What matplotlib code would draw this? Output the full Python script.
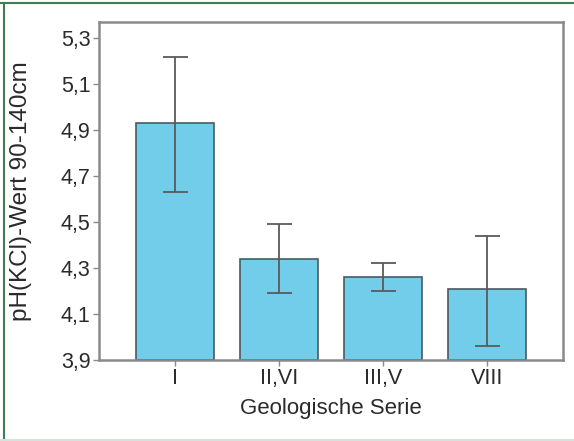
import matplotlib
matplotlib.use('Agg')
import matplotlib.pyplot as plt
from matplotlib.lines import Line2D
from matplotlib.ticker import FuncFormatter

serien = ['I', 'II,VI', 'III,V', 'VIII']
ph_mittel = [4.93, 4.34, 4.26, 4.21]
ph_oben = [5.22, 4.49, 4.32, 4.44]
ph_unten = [4.63, 4.19, 4.20, 3.96]

plt.rcParams['font.family'] = ['Liberation Sans', 'DejaVu Sans']

fig = plt.figure(figsize=(5.74, 4.41), dpi=100)
fig.patch.set_facecolor('white')
ax = fig.add_axes([0.1725, 0.1837, 0.8085, 0.7663])

x = list(range(len(serien)))
err_lo = [m - u for m, u in zip(ph_mittel, ph_unten)]
err_hi = [o - m for m, o in zip(ph_mittel, ph_oben)]

ax.bar(x, [m - 3.9 for m in ph_mittel], bottom=3.9, width=0.75,
       color='#72cdeb', edgecolor='#4a5a60', linewidth=1.2, zorder=2)
ax.errorbar(x, ph_mittel, yerr=[err_lo, err_hi], fmt='none',
            ecolor='#5a5a5a', elinewidth=1.3, capsize=9, capthick=1.3, zorder=3)

ax.set_xlim(-0.73, 3.73)
ax.set_ylim(3.9, 5.37)
ax.set_yticks([3.9, 4.1, 4.3, 4.5, 4.7, 4.9, 5.1, 5.3])
ax.yaxis.set_major_formatter(FuncFormatter(lambda v, p: f'{v:.1f}'.replace('.', ',')))
ax.set_xticks(x)
ax.set_xticklabels(serien)

for s in ax.spines.values():
    s.set_color('#8a8a8a')
    s.set_linewidth(1.8)

ax.tick_params(axis='both', colors='#8a8a8a', labelcolor='#2a2a2a',
               labelsize=15.5, length=4, width=1, pad=2)
ax.set_xlabel('Geologische Serie', fontsize=16, color='#2a2a2a')
ax.set_ylabel('pH(KCl)-Wert 90-140cm', fontsize=17.5, color='#2a2a2a')
ax.xaxis.set_label_coords(0.5, -0.112)
ax.yaxis.set_label_coords(-0.145, 0.5)

# frame around the figure
fig.add_artist(Line2D([0, 1], [1 - 3 / 441, 1 - 3 / 441], transform=fig.transFigure,
                      color='#3f7f4f', linewidth=1.5))
fig.add_artist(Line2D([4 / 574, 4 / 574], [0, 1 - 3 / 441], transform=fig.transFigure,
                      color='#3f7f4f', linewidth=1.5))
fig.add_artist(Line2D([0, 1], [1.5 / 441, 1.5 / 441], transform=fig.transFigure,
                      color='#d5e3dc', linewidth=1.5))

fig.savefig('out.png', dpi=100)
